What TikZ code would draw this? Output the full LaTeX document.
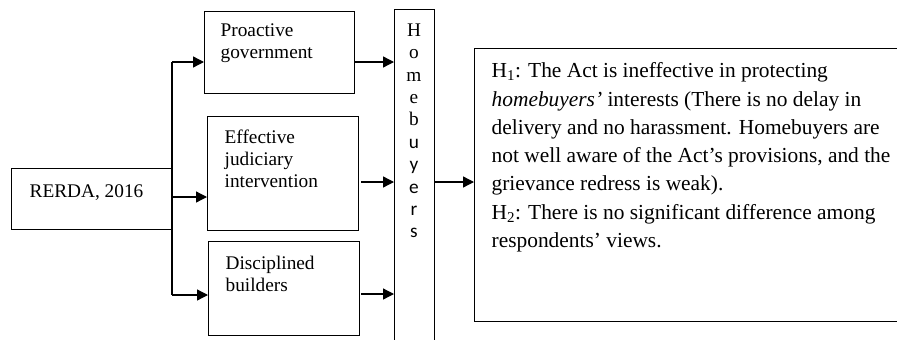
\documentclass[tikz,border=0pt]{standalone}
\usepackage{fontspec}
\setmainfont{Liberation Serif}
\newfontfamily\lettersans{Carlito}
\usetikzlibrary{arrows.meta}

\begin{document}
\begin{tikzpicture}[
		x=1pt,
		y=-1pt,
		line width=1.3pt,
		>={Triangle[length=11pt,width=11pt]},
		box/.style={draw, rectangle, inner sep=0pt, anchor=north west},
		box text/.style={inner sep=0pt, anchor=north west, align=left,
			font=\fontsize{19.3}{22}\selectfont},
		hyp text/.style={box text, font=\fontsize{21.4}{28.3}\selectfont}
		]
		
		\useasboundingbox (0,0) rectangle (897,340);
		\clip (0,0) rectangle (897,340);
		
		% boxes
		\node[box, minimum width=161pt, minimum height=61pt] (rerda) at (11,168) {};
		\node[box, minimum width=150pt, minimum height=82pt] (pro) at (204,11) {};
		\node[box, minimum width=151pt, minimum height=114pt] (eff) at (207,116) {};
		\node[box, minimum width=151pt, minimum height=94pt] (dis) at (208,241) {};
		\node[box, minimum width=40pt, minimum height=340pt] (hb) at (394,9) {};
		\node[box, minimum width=430pt, minimum height=273pt] (hyp) at (474,48) {};
		
		% texts
		\node[box text] at (29,184) {RERDA, 2016};
		\node[box text] at (220,23) {Proactive\\government};
		\node[box text] at (224,129) {Effective\\judiciary\\intervention};
		\node[box text] at (225,255) {Disciplined\\builders};
		\node[box text, anchor=north, align=center, font=\fontsize{19.3}{22.4}\selectfont]
			at (414,23) {H\\o\\m\\e\\b\\{\lettersans u}\\{\lettersans y}\\{\lettersans e}\\{\lettersans r}\\{\lettersans s}};
		\node[hyp text] at (491,62) {H\textsubscript{1}: The Act is ineffective in protecting\\
			\textit{homebuyers’} interests (There is no delay in\\
			delivery and no harassment. Homebuyers are\\
			not well aware of the Act’s provisions, and the\\
			grievance redress is weak).\\
			H\textsubscript{2}: There is no significant difference among\\
			respondents’ views.};
		
		% connectors
		\coordinate (j1) at (172,62);
		\coordinate (j2) at (172,197);
		\coordinate (j3) at (172,295);
		\coordinate (m2) at (361,182);
		\coordinate (m3) at (361,294);
		
		\draw (j1) -- (j3);
		\draw[->] (j1) -- (pro.west |- j1);
		\draw[->] (j2) -- (eff.west |- j2);
		\draw[->] (j3) -- (dis.west |- j3);
		\draw[->] (pro.east |- j1) -- (hb.west |- j1);
		\draw[->] (m2) -- (hb.west |- m2);
		\draw[->] (m3) -- (hb.west |- m3);
		\draw[->] (hb.east |- m2) -- (hyp.west |- m2);
	\end{tikzpicture}
\end{document}
